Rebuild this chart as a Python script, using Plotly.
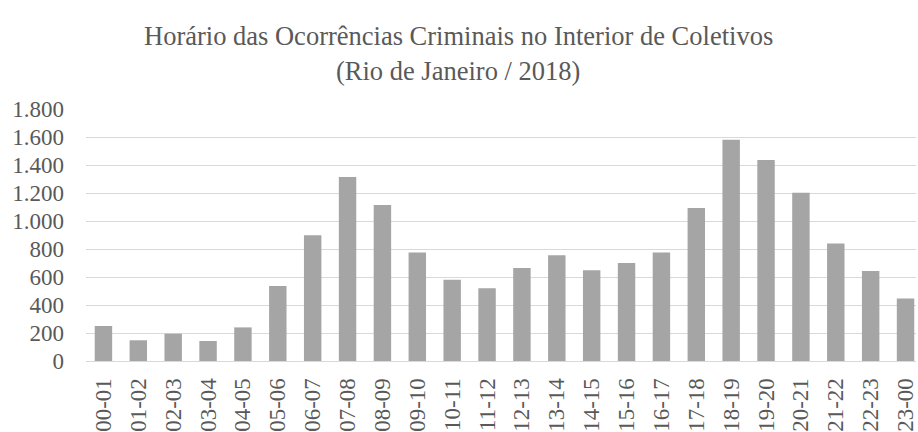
import plotly.graph_objects as go

# Hourly intervals and number of criminal occurrences inside buses
horarios = ["00-01", "01-02", "02-03", "03-04", "04-05", "05-06", "06-07", "07-08",
            "08-09", "09-10", "10-11", "11-12", "12-13", "13-14", "14-15", "15-16",
            "16-17", "17-18", "18-19", "19-20", "20-21", "21-22", "22-23", "23-00"]
ocorrencias = [250, 148, 195, 143, 240, 535, 898, 1315, 1115, 775, 580, 520,
               665, 755, 648, 700, 775, 1092, 1580, 1436, 1201, 840, 643, 446]
y_ticks = [0, 200, 400, 600, 800, 1000, 1200, 1400, 1600, 1800]
titulo = ["Horário das Ocorrências Criminais no Interior de Coletivos",
          "(Rio de Janeiro / 2018)"]

FONT = "Liberation Serif, Times New Roman, serif"
TEXT = "#595959"
W, H = 918, 432
M_L, M_R, M_T, M_B = 86, 0, 109, 70
plot_h = H - M_T - M_B

fig = go.Figure(go.Bar(
    x=list(range(len(horarios))),
    y=ocorrencias,
    width=0.5,
    marker=dict(color="#a5a5a5", line=dict(width=0)),
))

# two-line centred title, placed relative to the plot area
for linha, y_px in zip(titulo, [36, 71]):
    fig.add_annotation(
        text=linha, showarrow=False,
        xref="paper", x=(W / 2 - M_L) / (W - M_L - M_R), xanchor="center",
        yref="paper", y=(H - M_B - y_px) / plot_h, yanchor="middle",
        font=dict(family=FONT, size=26.5, color=TEXT),
    )

fig.update_layout(
    width=W, height=H,
    paper_bgcolor="white", plot_bgcolor="white",
    margin=dict(l=M_L, r=M_R, t=M_T, b=M_B),
    separators=",.",
    showlegend=False,
    xaxis=dict(
        range=[-0.5, 23.3],
        tickmode="array",
        tickvals=list(range(len(horarios))),
        ticktext=horarios,
        tickangle=-90,
        tickfont=dict(family=FONT, size=23, color=TEXT),
        ticklabeloverflow="allow",
        showgrid=False, zeroline=False,
        showline=True, linecolor="#d9d9d9", linewidth=1,
        ticks="", ticklabelstandoff=7,
    ),
    yaxis=dict(
        range=[0, 1800],
        tickmode="array",
        tickvals=y_ticks,
        separatethousands=True,
        tickfont=dict(family=FONT, size=23, color=TEXT),
        showgrid=True, gridcolor="#d9d9d9", gridwidth=1,
        zeroline=False, showline=False,
        ticks="", ticklabelstandoff=21,
    ),
)

fig.write_html("out.html")
